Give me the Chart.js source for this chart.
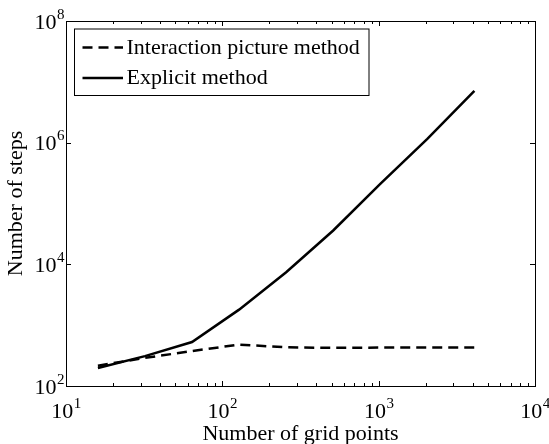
<!DOCTYPE html>
<html>
<head>
<meta charset="utf-8">
<script src="https://cdn.jsdelivr.net/npm/chart.js@4/dist/chart.umd.min.js"></script>
<style>
  html, body { margin: 0; padding: 0; background: #fff; }
  #wrap { width: 549px; height: 444px; }
</style>
</head>
<body>
<div id="wrap"><canvas id="chart" width="549" height="444"></canvas></div>
<script>
// Data
const gridPoints = [16, 32, 64, 128, 256, 512, 1024, 2048, 4096];
const interactionSteps = [216, 290, 375, 480, 432, 424, 428, 430, 430];
const explicitSteps = [198, 310, 528, 1800, 7400, 36000, 210000, 1150000, 7100000];
const seriesLabels = ['Interaction picture method', 'Explicit method'];
const xTickValues = [10, 100, 1000, 10000];
const yTickValues = [1e2, 1e4, 1e6, 1e8];
const xTitle = 'Number of grid points';
const yTitle = 'Number of steps';

const FONT = 'Liberation Serif, Times New Roman, serif';
const BIG = 22;
const SMALL = 15;

const toPoints = (ys) => gridPoints.map((x, i) => ({ x: x, y: ys[i] }));

// "10" with a raised exponent, measured so it can be aligned as one label
function drawPower(ctx, value, x, y, align) {
    const exp = String(Math.round(Math.log10(value)));
    ctx.font = BIG + 'px ' + FONT;
    const wBase = ctx.measureText('10').width;
    ctx.font = SMALL + 'px ' + FONT;
    const wExp = ctx.measureText(exp).width;
    let left = x;
    if (align === 'center') left = x - (wBase + wExp) / 2;
    if (align === 'right') left = x - (wBase + wExp);
    ctx.textAlign = 'left';
    ctx.textBaseline = 'alphabetic';
    ctx.font = BIG + 'px ' + FONT;
    ctx.fillText('10', left, y);
    ctx.font = SMALL + 'px ' + FONT;
    ctx.fillText(exp, left + wBase + 0.5, y - 10);
}

const framePlugin = {
    id: 'frame',
    afterDraw(chart) {
        const ctx = chart.ctx;
        const area = chart.chartArea;
        const xs = chart.scales.x;
        const ys = chart.scales.y;
        ctx.save();
        ctx.strokeStyle = '#000';
        ctx.fillStyle = '#000';
        ctx.lineWidth = 1;

        // box
        ctx.strokeRect(area.left + 0.5, area.top + 0.5, area.right - area.left, area.bottom - area.top);

        // x ticks (major + minor), inside, bottom and top
        ctx.beginPath();
        for (let d = 10; d < 10000; d *= 10) {
            for (let m = 1; m <= 9; m++) {
                const px = Math.round(xs.getPixelForValue(d * m)) + 0.5;
                const len = m === 1 ? 5 : 3;
                ctx.moveTo(px, area.bottom);
                ctx.lineTo(px, area.bottom - len);
                ctx.moveTo(px, area.top);
                ctx.lineTo(px, area.top + len);
            }
        }
        // y ticks, inside, left and right
        yTickValues.forEach((v) => {
            const py = Math.round(ys.getPixelForValue(v)) + 0.5;
            ctx.moveTo(area.left, py);
            ctx.lineTo(area.left + 5, py);
            ctx.moveTo(area.right, py);
            ctx.lineTo(area.right - 5, py);
        });
        ctx.stroke();

        // tick labels
        xTickValues.forEach((v) => {
            drawPower(ctx, v, xs.getPixelForValue(v), area.bottom + 32, 'center');
        });
        yTickValues.forEach((v) => {
            drawPower(ctx, v, area.left - 2, ys.getPixelForValue(v) + 7.5, 'right');
        });

        // axis titles
        ctx.font = BIG + 'px ' + FONT;
        ctx.textAlign = 'center';
        ctx.textBaseline = 'alphabetic';
        ctx.fillText(xTitle, (area.left + area.right) / 2, 440);
        ctx.save();
        ctx.translate(22, (area.top + area.bottom) / 2);
        ctx.rotate(-Math.PI / 2);
        ctx.fillText(yTitle, 0, 0);
        ctx.restore();

        // legend
        const lx = 74, ly = 28.5, lw = 294.5, lh = 66.5;
        ctx.fillStyle = '#fff';
        ctx.fillRect(lx, ly, lw, lh);
        ctx.strokeRect(lx + 0.5, ly + 0.5, lw, lh);
        ctx.fillStyle = '#000';
        chart.data.datasets.forEach((ds, i) => {
            const base = 53.5 + i * 30.6;
            ctx.save();
            ctx.lineWidth = ds.borderWidth;
            ctx.setLineDash(ds.borderDash || []);
            ctx.beginPath();
            ctx.moveTo(82.5, base - 6);
            ctx.lineTo(123, base - 6);
            ctx.stroke();
            ctx.restore();
            ctx.font = BIG + 'px ' + FONT;
            ctx.textAlign = 'left';
            ctx.fillText(ds.label, 126.5, base);
        });
        ctx.restore();
    }
};

new Chart(document.getElementById('chart'), {
    type: 'line',
    plugins: [framePlugin],
    data: {
        datasets: [
            {
                label: seriesLabels[0],
                data: toPoints(interactionSteps),
                borderColor: '#000',
                borderWidth: 2.5,
                borderDash: [10, 6],
                pointRadius: 0,
                tension: 0,
                fill: false
            },
            {
                label: seriesLabels[1],
                data: toPoints(explicitSteps),
                borderColor: '#000',
                borderWidth: 2.5,
                pointRadius: 0,
                tension: 0,
                fill: false
            }
        ]
    },
    options: {
        responsive: false,
        animation: false,
        layout: { padding: { left: 66, top: 21, right: 14, bottom: 58 } },
        plugins: {
            legend: { display: false },
            tooltip: { enabled: false }
        },
        scales: {
            x: {
                type: 'logarithmic',
                min: 10,
                max: 10000,
                ticks: { display: false },
                grid: { display: false },
                border: { display: false },
                afterFit: (s) => { s.height = 0; }
            },
            y: {
                type: 'logarithmic',
                min: 100,
                max: 1e8,
                ticks: { display: false },
                grid: { display: false },
                border: { display: false },
                afterFit: (s) => { s.width = 0; }
            }
        }
    }
});
</script>
</body>
</html>
